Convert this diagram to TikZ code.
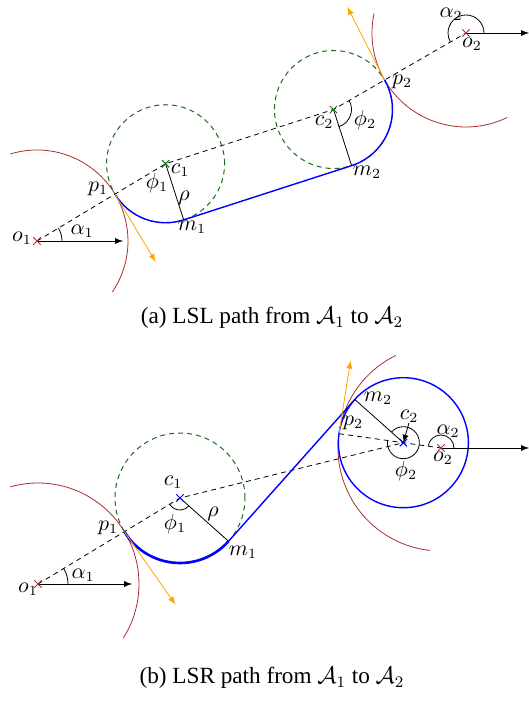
\documentclass[tikz,border=0pt]{standalone}
\usepackage{fontspec}
\setmainfont{Liberation Serif}
\usetikzlibrary{calc,shapes.misc}

\definecolor{arcred}{RGB}{170,45,45}
\definecolor{darkgreen}{RGB}{25,110,25}
\definecolor{tangent}{RGB}{255,165,0}

\tikzset{
    xmark/.style={cross out,draw,inner sep=0pt,minimum size=3.2pt,line width=0.5pt},
    guide/.style={dash pattern=on 2.5pt off 2pt,line width=0.4pt},
    turn/.style={darkgreen,dash pattern=on 2.5pt off 2pt,line width=0.5pt},
    path/.style={blue,line width=0.7pt},
    lbl/.style={inner sep=0pt,font=\fontsize{10.6}{12}\selectfont},
    caption/.style={font=\fontsize{11.6}{14}\selectfont}
}

\begin{document}
\begin{tikzpicture}[x=0.5pt,y=0.5pt,line join=round]
    \useasboundingbox (0,0) rectangle (529,702);

    % ---- (a) LSL ----
    \coordinate (ao1) at (37,461);
    \coordinate (ap1) at ($(ao1)+(31:91)$);
    \coordinate (ac1) at ($(ao1)+(31:150)$);
    \coordinate (ao2) at (466,669);
    \coordinate (ap2) at ($(ao2)+(210:94)$);
    \coordinate (ac2) at ($(ao2)+(210:153)$);
    \coordinate (am1) at ($(ac1)+(287.9:59)$);
    \coordinate (am2) at ($(ac2)+(287.9:59)$);
    \coordinate (ah1) at (123,461);
    \coordinate (ah2) at (529,669);
    \coordinate (at1) at ($(ap1)+(-59:79)$);
    \coordinate (at2) at ($(ap2)+(117:82)$);

    \draw[arcred] ($(ao1)+(107:91)$) arc[start angle=107,end angle=-34,radius=91];
    \draw[arcred] ($(ao2)+(168:94)$) arc[start angle=168,end angle=296,radius=94];
    \draw[turn] (ac1) circle[radius=59];
    \draw[turn] (ac2) circle[radius=59];
    \draw[guide] (ao1) -- (ac1) -- (ac2) -- (ao2);

    \draw[path] (ap1) arc[start angle=211,end angle=287.9,radius=59] -- (am2)
        arc[start angle=287.9,end angle=390,radius=59];

    \draw (ac1) -- (am1);
    \draw (ac2) -- (am2);
    \draw ($(ao1)+(25,0)$) arc[start angle=0,end angle=31,radius=25];
    \draw ($(ao2)+(18,0)$) arc[start angle=0,end angle=210,radius=18];
    \draw ($(ac2)+(287.9:18)$) arc[start angle=287.9,end angle=390,radius=18];
    \draw[-latex] (ao1) -- (ah1);
    \draw[-latex] (ao2) -- (ah2);
    \draw[tangent,-latex] (ap1) -- (at1);
    \draw[tangent,-latex] (ap2) -- (at2);

    \node[xmark,arcred] (xao1) at (ao1) {};
    \node[xmark,arcred] (xao2) at (ao2) {};
    \node[xmark,darkgreen] (xac1) at (ac1) {};
    \node[xmark,darkgreen] (xac2) at (ac2) {};

    \node[lbl] (lao1) at (22,464) {$o_1$};
    \node[lbl] (lal1) at (82,471) {$\alpha_1$};
    \node[lbl] (lap1) at (98,513) {$p_1$};
    \node[lbl] (lac1) at (180,532) {$c_1$};
    \node[lbl] (laf1) at (157,519) {$\phi_1$};
    \node[lbl] (lar) at (184,504) {$\rho$};
    \node[lbl] (lam1) at (192,475) {$m_1$};
    \node[lbl] (lac2) at (324,580) {$c_2$};
    \node[lbl] (laf2) at (365,582) {$\phi_2$};
    \node[lbl] (lam2) at (367,530) {$m_2$};
    \node[lbl] (lap2) at (402,620) {$p_2$};
    \node[lbl] (lao2) at (472,658) {$o_2$};
    \node[lbl] (lal2) at (451,688) {$\alpha_2$};
    \node[caption] (capa) at (272,384) {(a) LSL path from $\mathcal{A}_1$ to $\mathcal{A}_2$};

    % ---- (b) LSR ----
    \coordinate (bo1) at (38,118);
    \coordinate (bp1) at ($(bo1)+(31.2:101)$);
    \coordinate (bc1) at ($(bo1)+(31.2:166)$);
    \coordinate (bo2) at (441,254);
    \coordinate (bc2) at ($(bo2)+(172:38)$);
    \coordinate (bp2) at ($(bo2)+(172:103)$);
    \coordinate (bm1) at ($(bc1)+(-41.7:65)$);
    \coordinate (bm2) at ($(bc2)+(138.3:65)$);
    \coordinate (bh1) at (132,118);
    \coordinate (bh2) at (529,254);
    \coordinate (bt1) at ($(bp1)+(-55:89)$);
    \coordinate (bt2) at ($(bp2)+(81:74)$);

    \draw[arcred] ($(bo1)+(106:101)$) arc[start angle=106,end angle=-32.4,radius=101];
    \draw[arcred] ($(bo2)+(116:103)$) arc[start angle=116,end angle=264,radius=103];
    \draw[turn] (bc1) circle[radius=65];
    \draw[guide] (bo1) -- (bc1) -- (bc2);
    \draw[guide] (bp2) -- (bo2);

    \draw[blue,line width=1.3pt] (bp1) arc[start angle=211.2,end angle=318.3,radius=65];
    \draw[path] (bm1) -- (bm2);
    \draw[path] (bc2) circle[radius=65];

    \draw (bc1) -- (bm1);
    \draw (bc2) -- (bm2);
    \draw ($(bo1)+(30,0)$) arc[start angle=0,end angle=31.2,radius=30];
    \draw ($(bo2)+(13,0)$) arc[start angle=0,end angle=172,radius=13];
    \draw ($(bc1)+(211.2:12)$) arc[start angle=211.2,end angle=318.3,radius=12];
    \draw ($(bc2)+(138.3:16)$) arc[start angle=138.3,end angle=-188,radius=16];
    \draw[-latex] (bo1) -- (bh1);
    \draw[-latex] (bo2) -- (bh2);
    \draw[tangent,-latex] (bp1) -- (bt1);
    \draw[tangent,-latex] (bp2) -- (bt2);

    \node[xmark,arcred] (xbo1) at (bo1) {};
    \node[xmark,arcred] (xbo2) at (bo2) {};
    \node[xmark,blue] (xbc1) at (bc1) {};
    \node[xmark,blue] (xbc2) at (bc2) {};

    \node[lbl] (lbo1) at (28,113) {$o_1$};
    \node[lbl] (lbl1) at (83,127) {$\alpha_1$};
    \node[lbl] (lbp1) at (108,174) {$p_1$};
    \node[lbl] (lbc1) at (173,220) {$c_1$};
    \node[lbl] (lbf1) at (175,178) {$\phi_1$};
    \node[lbl] (lbr) at (213,188) {$\rho$};
    \node[lbl] (lbm1) at (243,150) {$m_1$};
    \node[lbl] (lbm2) at (378,304) {$m_2$};
    \node[lbl] (lbc2) at (409,286) {$c_2$};
    \node[lbl] (lbp2) at (353,279) {$p_2$};
    \node[lbl] (lbl2) at (448,271) {$\alpha_2$};
    \node[lbl] (lbo2) at (443,244) {$o_2$};
    \node[lbl] (lbf2) at (406,231) {$\phi_2$};
    \draw[-latex] (lbc2.south) -- (bc2);
    \node[caption] (capb) at (272,24) {(b) LSR path from $\mathcal{A}_1$ to $\mathcal{A}_2$};
\end{tikzpicture}
\end{document}
